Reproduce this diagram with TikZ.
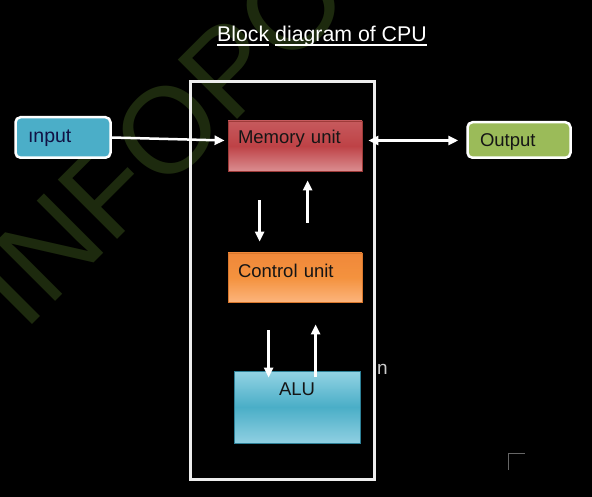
\documentclass[tikz,border=0pt]{standalone}
\usepackage{fontspec}
\setmainfont{Liberation Sans}
\usepackage{tikz}
\usetikzlibrary{arrows.meta,calc}
\definecolor{ink}{HTML}{151515}
\definecolor{wmgreen}{HTML}{1D2A0E}
\definecolor{inblue}{HTML}{4BAEC8}
\definecolor{outgreen}{HTML}{9BBB59}
\definecolor{memtop}{HTML}{C65A5D}
\definecolor{memmid}{HTML}{BE4246}
\definecolor{membot}{HTML}{DA8D90}
\definecolor{memdark}{HTML}{9E3A38}
\definecolor{ctltop}{HTML}{F0883A}
\definecolor{ctlmid}{HTML}{F4923E}
\definecolor{ctlbot}{HTML}{FCB47C}
\definecolor{ctldark}{HTML}{D9772C}
\definecolor{alutop}{HTML}{93D3E4}
\definecolor{alumid}{HTML}{4AAEC7}
\definecolor{alubot}{HTML}{90D0E2}
\definecolor{aludark}{HTML}{2D8097}
\newsavebox{\ulbox}
\newcommand{\ulword}[1]{\sbox{\ulbox}{#1}\rlap{\rule[-3.8pt]{\wd\ulbox}{1.6pt}}\usebox{\ulbox}}

\begin{document}
\begin{tikzpicture}[x=1pt, y=-1pt,
  font=\fontsize{18.5}{22}\selectfont,
  box/.style={inner ysep=0pt, inner xsep=10pt, align=left, text=ink, line width=0.8pt},
  membox/.style={box, draw=memdark, top color=memtop, bottom color=membot, middle color=memmid},
  ctlbox/.style={box, draw=ctldark, top color=ctltop, bottom color=ctlbot, middle color=ctlmid},
  alubox/.style={box, align=center, draw=aludark, top color=alutop, bottom color=alubot, middle color=alumid},
  iobox/.style={box, rounded corners=5pt, draw=white, line width=2.5pt, inner xsep=12.5pt},
  txt/.style={anchor=base west, inner sep=0pt},
  flow/.style={-{Triangle[length=10pt,width=9pt]}, white, line width=2.5pt},
  dflow/.style={flow, {Triangle[length=10pt,width=9pt]}-{Triangle[length=10pt,width=9pt]}},
]
\fill[black] (0,0) rectangle (592,497);
\useasboundingbox (0,0) rectangle (592,497);

\node[txt, rotate=45, text=wmgreen, font=\fontsize{122}{122}\selectfont] (wmark) at (24,333) {INFOPO};

\node[txt, text=white, font=\fontsize{21.3}{24}\selectfont] (title) at (217,42)
  {\ulword{Block} \ulword{diagram of CPU}};

\node[draw=white!93!black, line width=3pt, minimum width=184pt, minimum height=398pt,
      inner sep=0pt] (cpu) at (282.5,280.5) {};

\node[iobox, fill=inblue, text=ink!80!blue, font=\fontsize{19.5}{22}\selectfont,
      text width=70pt, text height=25.75pt, text depth=14.75pt] (inp) at (63,137.5) {ınput};
\node[iobox, fill=outgreen, text width=78pt, text height=24.25pt, text depth=11.25pt]
  (out) at (519,140) {Output};
\node[membox, text width=114pt, text height=23pt, text depth=27pt] (mem) at (295,146) {Memory unit};
\node[ctlbox, text width=114pt, text height=24pt, text depth=25pt] (ctl) at (295,277.5) {Control unit};
\node[alubox, text width=106pt, text height=24pt, text depth=48pt] (alu) at (297,407) {ALU};

\draw[flow] (inp.east) -- ($(mem.west)+(-3,-5.5)$);
\draw[dflow] ($(mem.east)+(6,-5.5)$) -- ($(out.west)+(-8,0.5)$);
\draw[flow] ($(mem.south west)+(32,29)$) -- ($(ctl.north west)+(32,-11)$);
\draw[flow] ($(ctl.north west)+(80,-30)$) -- ($(mem.south west)+(80,9)$);
\draw[flow] ($(ctl.south west)+(41,28)$) -- ($(alu.north west)+(35,7)$);
\draw[flow] ($(alu.north west)+(82,6)$) -- ($(ctl.south west)+(88,22)$);

\node[txt, text=white!80!black, font=\fontsize{19}{22}\selectfont] (stray) at (377,374) {n};
\draw[white!40!black, line width=1pt] (508,470) -- (508,453) -- (525,453);
\end{tikzpicture}
\end{document}
